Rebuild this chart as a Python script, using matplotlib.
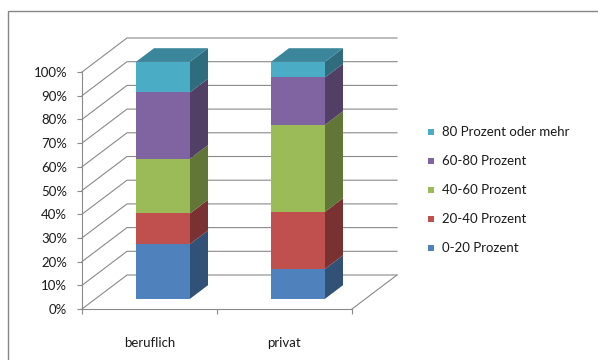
import matplotlib
matplotlib.use("Agg")
import matplotlib.pyplot as plt
from matplotlib.patches import Polygon, Rectangle
import numpy as np

# Data: share of respondents per band, for each usage context
categories = ["beruflich", "privat"]
series_labels = ["0-20 Prozent", "20-40 Prozent", "40-60 Prozent",
                 "60-80 Prozent", "80 Prozent oder mehr"]
values = {
    "0-20 Prozent":         [23.1, 12.6],
    "20-40 Prozent":        [12.9, 24.1],
    "40-60 Prozent":        [23.1, 36.7],
    "60-80 Prozent":        [28.0, 20.0],
    "80 Prozent oder mehr": [12.9, 6.6],
}
y_ticks = np.arange(0, 101, 10)

colors = {
    "0-20 Prozent": "#4F81BD",
    "20-40 Prozent": "#C0504D",
    "40-60 Prozent": "#9BBB59",
    "60-80 Prozent": "#8064A2",
    "80 Prozent oder mehr": "#4BACC6",
}

FONT = ["Lato", "DejaVu Sans"]
FS = 9.5
GRID = "#8a8a8a"

W, H = 598, 360
fig = plt.figure(figsize=(W / 100, H / 100), dpi=100)

# Front plane of the plot: x in category units, y as fraction of 100 %
ax = fig.add_axes([82 / W, 1 - 309 / H, 270 / W, 237 / H])
n = len(categories)
ax.set_xlim(0, n)
ax.set_ylim(0, 1)

# Oblique depth offset (full depth) in data units
DX = 45 / 135
DY = 34 / 237


def proj(x, y, z):
    return (x + z * DX, y + z * DY)


# Walls: side-wall and back-wall gridlines
for t in y_ticks / 100:
    p0 = proj(0, t, 0)
    p1 = proj(0, t, 1)
    p2 = proj(n, t, 1)
    ax.plot([p0[0], p1[0], p2[0]], [p0[1], p1[1], p2[1]], color=GRID,
            lw=0.8, clip_on=False, zorder=1, solid_joinstyle="miter")
# Floor right edge
f0 = proj(n, 0, 0)
f1 = proj(n, 0, 1)
ax.plot([f0[0], f1[0]], [f0[1], f1[1]], color=GRID, lw=0.8, clip_on=False, zorder=1)


def shade(c, k):
    rgb = np.array(matplotlib.colors.to_rgb(c)) * k
    return tuple(np.clip(rgb, 0, 1))


# 3D stacked bars
bar_w = 0.4
z0, z1 = 0.3, 0.7
totals = np.sum([values[s] for s in series_labels], axis=0)
for i in range(n):
    cx = i + 0.5
    xl, xr = cx - bar_w / 2, cx + bar_w / 2
    bottom = 0.0
    for j, s in enumerate(series_labels):
        h = values[s][i] / totals[i]
        top = bottom + h
        c = colors[s]
        front = [proj(xl, bottom, z0), proj(xr, bottom, z0),
                 proj(xr, top, z0), proj(xl, top, z0)]
        side = [proj(xr, bottom, z0), proj(xr, bottom, z1),
                proj(xr, top, z1), proj(xr, top, z0)]
        ax.add_patch(Polygon(side, closed=True, fc=shade(c, 0.63), ec="none",
                             clip_on=False, zorder=3))
        ax.add_patch(Polygon(front, closed=True, fc=c, ec="none",
                             clip_on=False, zorder=4))
        if j == len(series_labels) - 1:
            lid = [proj(xl, top, z0), proj(xr, top, z0),
                   proj(xr, top, z1), proj(xl, top, z1)]
            ax.add_patch(Polygon(lid, closed=True, fc=shade(c, 0.78), ec="none",
                                 clip_on=False, zorder=3))
        bottom = top

# Axes styling
for sp in ("top", "right"):
    ax.spines[sp].set_visible(False)
for sp in ("left", "bottom"):
    ax.spines[sp].set_color(GRID)
    ax.spines[sp].set_linewidth(0.8)
    ax.spines[sp].set_zorder(2)

ax.set_yticks(y_ticks / 100)
ax.set_yticklabels([f"{v}%" for v in y_ticks], family=FONT, fontsize=FS)
ax.tick_params(axis="y", length=3.6, width=0.8, color=GRID, pad=7, labelcolor="#1a1a1a")

ax.set_xticks(np.arange(n + 1))
ax.set_xticklabels([])
ax.set_xticks(np.arange(n) + 0.5, minor=True)
ax.set_xticklabels(categories, minor=True, family=FONT, fontsize=FS)
ax.tick_params(axis="x", which="major", length=3.6, width=0.8, color=GRID)
ax.tick_params(axis="x", which="minor", length=0, pad=20, labelcolor="#1a1a1a")
ax.patch.set_visible(False)

# Legend (top entry is the last series)
leg_x = 428 / W
leg_top = 1 - 131.7 / H
step = 29.2 / H
for k, s in enumerate(reversed(series_labels)):
    yy = leg_top - k * step
    fig.patches.append(Rectangle((leg_x, yy - 3 / H), 6 / W, 6 / H,
                                 transform=fig.transFigure, fc=colors[s], ec="none"))
    fig.text(leg_x + 13.5 / W, yy, s, family=FONT, fontsize=FS, va="center",
             ha="left", color="#1a1a1a")

# Chart frame
fig.patches.append(Rectangle((8 / W, -0.1), 1.2, 1 - 11 / H + 0.1,
                             transform=fig.transFigure, fc="none", ec="#868686", lw=1.0))

fig.savefig("out.png", dpi=100)
